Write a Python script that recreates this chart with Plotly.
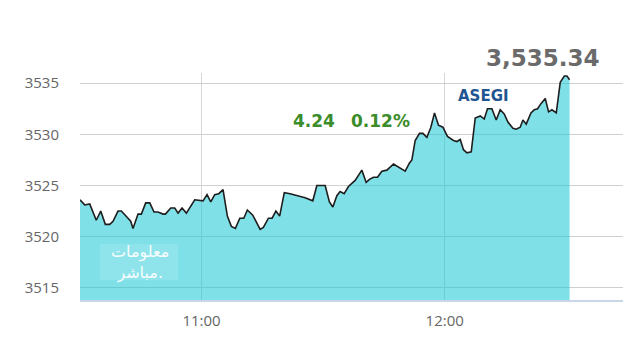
import plotly.graph_objects as go

day = "2024-01-01 "
times = ["10:30:00", "10:31:10", "10:32:24", "10:34:01", "10:35:07", "10:36:15", "10:37:20", "10:38:09",
         "10:39:23", "10:40:12", "10:41:51", "10:42:31", "10:43:05", "10:44:19", "10:45:08", "10:46:13",
         "10:47:13", "10:48:16", "10:49:15", "10:50:30", "10:51:04", "10:52:24", "10:53:23", "10:54:12",
         "10:55:11", "10:56:15", "10:58:19", "10:59:33", "11:00:22", "11:01:21", "11:02:16", "11:03:15",
         "11:04:15", "11:05:18", "11:06:22", "11:07:21", "11:08:21", "11:09:26", "11:10:25", "11:11:18",
         "11:12:38", "11:14:27", "11:15:15", "11:16:30", "11:17:24", "11:18:21", "11:19:16", "11:20:25",
         "11:21:51", "11:25:33", "11:26:58", "11:27:27", "11:28:27", "11:30:30", "11:31:33", "11:32:24",
         "11:33:23", "11:34:12", "11:35:11", "11:36:15", "11:37:54", "11:39:33", "11:40:37", "11:41:26",
         "11:42:25", "11:43:25", "11:44:30", "11:45:44", "11:47:22", "11:48:50", "11:50:15", "11:51:19",
         "11:51:54", "11:52:43", "11:53:47", "11:54:37", "11:55:36", "11:56:35", "11:57:29", "11:58:28",
         "11:59:33", "12:00:41", "12:02:10", "12:03:01", "12:03:50", "12:04:38", "12:05:29", "12:06:33",
         "12:07:32", "12:08:46", "12:09:45", "12:10:34", "12:11:39", "12:12:43", "12:13:42", "12:14:41",
         "12:15:36", "12:16:50", "12:17:39", "12:18:38", "12:19:18", "12:20:07", "12:21:17", "12:22:06",
         "12:22:55", "12:23:45", "12:24:49", "12:25:38", "12:26:28", "12:27:32", "12:28:31", "12:29:31",
         "12:30:10", "12:30:49"]
values = [3523.6, 3523.1, 3523.2, 3521.6, 3522.5, 3521.2, 3521.2, 3521.5,
          3522.5, 3522.5, 3521.8, 3521.5, 3520.8, 3522.2, 3522.2, 3523.3,
          3523.3, 3522.4, 3522.4, 3522.2, 3522.2, 3522.8, 3522.8, 3522.3,
          3522.8, 3522.3, 3523.6, 3523.5, 3523.5, 3524.1, 3523.4, 3524.1,
          3524.2, 3524.6, 3522.0, 3521.0, 3520.8, 3521.8, 3521.8, 3522.6,
          3522.1, 3520.7, 3520.9, 3521.8, 3521.8, 3522.5, 3522.0, 3524.3,
          3524.2, 3523.8, 3523.6, 3523.5, 3525.0, 3525.0, 3523.4, 3522.9,
          3524.0, 3524.4, 3524.2, 3524.9, 3525.5, 3526.5, 3525.3, 3525.6,
          3525.8, 3525.8, 3526.4, 3526.5, 3527.1, 3526.7, 3526.4, 3527.2,
          3527.5, 3529.4, 3530.1, 3530.1, 3529.7, 3530.7, 3532.1, 3530.9,
          3530.7, 3529.8, 3529.4, 3529.3, 3529.5, 3528.5, 3528.2, 3528.3,
          3531.6, 3531.8, 3531.5, 3532.5, 3532.5, 3531.4, 3532.4, 3532.0,
          3531.2, 3530.6, 3530.5, 3530.7, 3531.4, 3531.0, 3532.1, 3532.4,
          3532.5, 3533.0, 3533.5, 3532.2, 3532.4, 3532.1, 3535.1, 3535.7,
          3535.7, 3535.34]
y_ticks = [3515, 3520, 3525, 3530, 3535]
x_ticks = ["11:00", "12:00"]
index_name = "ASEGI"
last_value = "3,535.34"
change_value = "4.24"
change_pct = "0.12%"
watermark = "معلومات<br>مباشر."

x = [day + t for t in times]

# plot-area geometry (pixels) used to place the decorative texts in paper coords
L, R, T, B = 80, 17, 73, 48
PW, PH = 640 - L - R, 348 - T - B


def px(xp):
    return (xp - L) / PW


def py(yp):
    return (348 - B - yp) / PH


fig = go.Figure()
fig.add_trace(go.Scatter(
    x=x, y=values, mode="lines",
    line=dict(color="#1e1e1e", width=1.6),
    fill="tozeroy", fillcolor="rgba(24,199,213,0.55)",
    hoverinfo="skip", showlegend=False,
))

bold = "DejaVu Sans"
fig.update_layout(
    width=640, height=348,
    margin=dict(l=L, r=R, t=T, b=B),
    paper_bgcolor="white", plot_bgcolor="white",
    font=dict(family="Open Sans", color="#666666", size=15),
    xaxis=dict(
        type="date",
        range=[day + "10:30:00", day + "12:44:00"],
        tickvals=[day + t for t in x_ticks], ticktext=x_ticks,
        showgrid=True, gridcolor="#d6d6d6", gridwidth=1,
        showline=True, linecolor="#c9d6e6", linewidth=2,
        ticks="outside", ticklen=6, tickcolor="rgba(0,0,0,0)",
        tickfont=dict(size=15, color="#666666"),
        zeroline=False,
    ),
    yaxis=dict(
        range=[3513.8, 3536.0],
        tickvals=y_ticks,
        showgrid=True, gridcolor="#d0d0d0", gridwidth=1,
        ticks="outside", ticklen=17, tickcolor="rgba(0,0,0,0)",
        tickfont=dict(size=15, color="#666666"),
        zeroline=False, showline=False,
    ),
    annotations=[
        dict(text="<b>" + last_value + "</b>", xref="paper", yref="paper",
             x=px(542.5), y=py(58), xanchor="center", yanchor="middle",
             showarrow=False, font=dict(family=bold, size=23, color="#6a6a6a")),
        dict(text="<b>" + index_name + "</b>", xref="paper", yref="paper",
             x=px(483), y=py(96), xanchor="center", yanchor="middle",
             showarrow=False, font=dict(family=bold, size=15, color="#1f5590")),
        dict(text="<b>" + change_value + "</b>", xref="paper", yref="paper",
             x=px(314), y=py(121), xanchor="center", yanchor="middle",
             showarrow=False, font=dict(family=bold, size=17, color="#3b8c2a")),
        dict(text="<b>" + change_pct + "</b>", xref="paper", yref="paper",
             x=px(380), y=py(121), xanchor="center", yanchor="middle",
             showarrow=False, font=dict(family=bold, size=17, color="#3b8c2a")),
        dict(text=watermark, xref="paper", yref="paper",
             x=px(140), y=py(262), xanchor="center", yanchor="middle",
             showarrow=False, font=dict(family="DejaVu Sans", size=16, color="rgba(255,255,255,0.95)")),
    ],
    shapes=[
        dict(type="rect", xref="paper", yref="paper",
             x0=px(100), x1=px(178), y0=py(280), y1=py(244),
             fillcolor="rgba(255,255,255,0.12)", line=dict(width=0), layer="above"),
    ],
)

fig.write_html("out.html")
